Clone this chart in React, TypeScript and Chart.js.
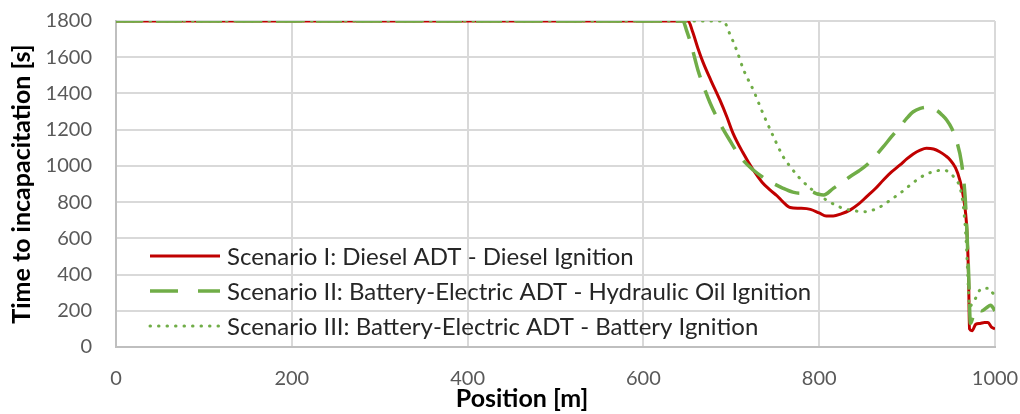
import React, { useEffect, useRef } from "react";
import { Chart, registerables } from "chart.js";

Chart.register(...registerables);

// Positions along the route [m] and time to incapacitation [s] per scenario
const dieselPos = [0, 651, 656, 662, 668, 677, 687, 695, 702, 713, 725, 735, 744, 752, 759, 767, 778, 790, 800, 808, 816, 825, 835, 845, 854, 864, 873, 882, 892, 900, 907, 915, 922, 930, 937, 944, 949, 955, 960, 964, 968, 970, 971, 974, 978, 983, 988, 992, 996, 1000];
const dieselTime = [1800, 1800, 1740, 1650, 1570, 1470, 1364, 1270, 1180, 1075, 977, 910, 867, 835, 800, 770, 766, 760, 740, 723, 723, 735, 756, 790, 830, 875, 922, 965, 1005, 1040, 1066, 1087, 1097, 1093, 1078, 1055, 1033, 990, 922, 830, 646, 370, 100, 90, 125, 130, 135, 135, 110, 100];

const hydraulicPos = [0, 645, 649, 655, 662, 670, 676, 687, 698, 710, 725, 735, 744, 759, 770, 778, 790, 798, 805, 816, 825, 835, 845, 854, 864, 873, 882, 892, 900, 907, 915, 922, 928, 934, 940, 945, 951, 956, 962, 966, 968, 970, 972, 976, 980, 985, 990, 995, 1000];
const hydraulicTime = [1800, 1800, 1750, 1658, 1530, 1419, 1346, 1235, 1143, 1051, 977, 940, 913, 876, 855, 849, 858, 845, 839, 876, 905, 940, 972, 1005, 1055, 1106, 1160, 1217, 1265, 1299, 1318, 1324, 1318, 1305, 1280, 1253, 1205, 1143, 1014, 830, 646, 407, 130, 180, 210, 200, 215, 230, 200];

const batteryPos = [0, 691, 698, 706, 714, 725, 736, 748, 759, 768, 778, 790, 800, 808, 818, 827, 840, 854, 864, 873, 882, 892, 902, 911, 920, 930, 941, 948, 953, 957, 960, 964, 967, 969, 971, 974, 978, 982, 986, 990, 994, 997, 1000];
const batteryTime = [1800, 1800, 1732, 1640, 1530, 1419, 1290, 1161, 1051, 990, 931, 876, 840, 812, 785, 766, 752, 747, 762, 784, 815, 849, 888, 922, 950, 968, 977, 965, 940, 915, 885, 775, 600, 400, 220, 240, 270, 310, 325, 325, 325, 300, 290];

const seriesLabels = [
  "Scenario I: Diesel ADT - Diesel Ignition",
  "Scenario II: Battery-Electric ADT - Hydraulic Oil Ignition",
  "Scenario III: Battery-Electric ADT - Battery Ignition",
];

const xTicks = [0, 200, 400, 600, 800, 1000];
const yTicks = [0, 200, 400, 600, 800, 1000, 1200, 1400, 1600, 1800];
const xTitle = "Position [m]";
const yTitle = "Time to incapacitation [s]";

const FONT = "Lato, Carlito, 'Open Sans', sans-serif";

const toPoints = (xs: number[], ys: number[]) => xs.map((x, i) => ({ x, y: ys[i] }));

// Draws the axis titles and the in-plot legend
const overlayPlugin = {
  id: "overlay",
  afterDraw(chart: any) {
    const ctx = chart.ctx as CanvasRenderingContext2D;
    ctx.save();
    ctx.fillStyle = "#000000";
    ctx.font = `bold 25px ${FONT}`;
    ctx.textAlign = "center";
    ctx.textBaseline = "middle";
    ctx.fillText(xTitle, 522, 399);
    ctx.save();
    ctx.translate(22, 184);
    ctx.rotate(-Math.PI / 2);
    ctx.fillText(yTitle, 0, 0);
    ctx.restore();

    chart.data.datasets.forEach((ds: any, i: number) => {
      const y = 256 + i * 35;
      ctx.save();
      ctx.strokeStyle = ds.borderColor;
      ctx.lineWidth = ds.borderWidth;
      ctx.lineCap = ds.borderCapStyle || "butt";
      ctx.setLineDash(ds.legendDash || []);
      ctx.beginPath();
      ctx.moveTo(150, y);
      ctx.lineTo(220, y);
      ctx.stroke();
      ctx.restore();
      ctx.fillStyle = "#262626";
      ctx.font = `24px ${FONT}`;
      ctx.textAlign = "left";
      ctx.textBaseline = "middle";
      ctx.fillText(ds.label, 227, y + 1);
    });
    ctx.restore();
  },
};

export default function App() {
  const canvasRef = useRef<HTMLCanvasElement>(null);

  useEffect(() => {
    if (!canvasRef.current) return;
    const chart = new Chart(canvasRef.current, {
      type: "line",
      data: {
        datasets: [
          {
            label: seriesLabels[0],
            data: toPoints(dieselPos, dieselTime),
            borderColor: "#C00000",
            borderWidth: 3,
            pointRadius: 0,
            cubicInterpolationMode: "monotone",
            order: 3,
            legendDash: [],
          } as any,
          {
            label: seriesLabels[1],
            data: toPoints(hydraulicPos, hydraulicTime),
            borderColor: "#70AD47",
            borderWidth: 3.5,
            borderDash: [26, 14],
            pointRadius: 0,
            cubicInterpolationMode: "monotone",
            order: 2,
            legendDash: [28, 20],
          } as any,
          {
            label: seriesLabels[2],
            data: toPoints(batteryPos, batteryTime),
            borderColor: "#70AD47",
            borderWidth: 3,
            borderDash: [0.5, 8],
            borderCapStyle: "round",
            pointRadius: 0,
            cubicInterpolationMode: "monotone",
            order: 1,
            legendDash: [0.5, 8],
          } as any,
        ],
      },
      options: {
        animation: false,
        responsive: false,
        devicePixelRatio: 1,
        layout: { padding: { left: 0, right: 25, top: 21, bottom: 0 } },
        plugins: { legend: { display: false }, tooltip: { enabled: false } },
        scales: {
          x: {
            type: "linear",
            min: 0,
            max: 1000,
            afterBuildTicks: (s: any) => {
              s.ticks = xTicks.map((v) => ({ value: v }));
            },
            afterFit: (s: any) => {
              s.height = 67;
              s.paddingLeft = 0;
              s.paddingRight = 0;
            },
            ticks: {
              color: "#595959",
              font: { family: FONT, size: 20 },
              padding: 20,
              maxRotation: 0,
              callback: (v: any) => String(v),
            },
            grid: { color: "#D9D9D9", lineWidth: 2, drawTicks: false },
            border: { color: "#BFBFBF", width: 2 },
          },
          y: {
            min: 0,
            max: 1800,
            afterBuildTicks: (s: any) => {
              s.ticks = yTicks.map((v) => ({ value: v }));
            },
            afterFit: (s: any) => {
              s.width = 116;
              s.paddingTop = 0;
              s.paddingBottom = 0;
            },
            ticks: {
              color: "#595959",
              font: { family: FONT, size: 20 },
              padding: 24,
              callback: (v: any) => String(v),
            },
            grid: { color: "#D9D9D9", lineWidth: 2, drawTicks: false },
            border: { color: "#BFBFBF", width: 2 },
          },
        },
      },
      plugins: [overlayPlugin],
    } as any);
    return () => chart.destroy();
  }, []);

  return (
    <div style={{ position: "absolute", left: 0, top: 0, width: 1020, height: 414, background: "#fff" }}>
      <canvas ref={canvasRef} width={1020} height={414} />
    </div>
  );
}
